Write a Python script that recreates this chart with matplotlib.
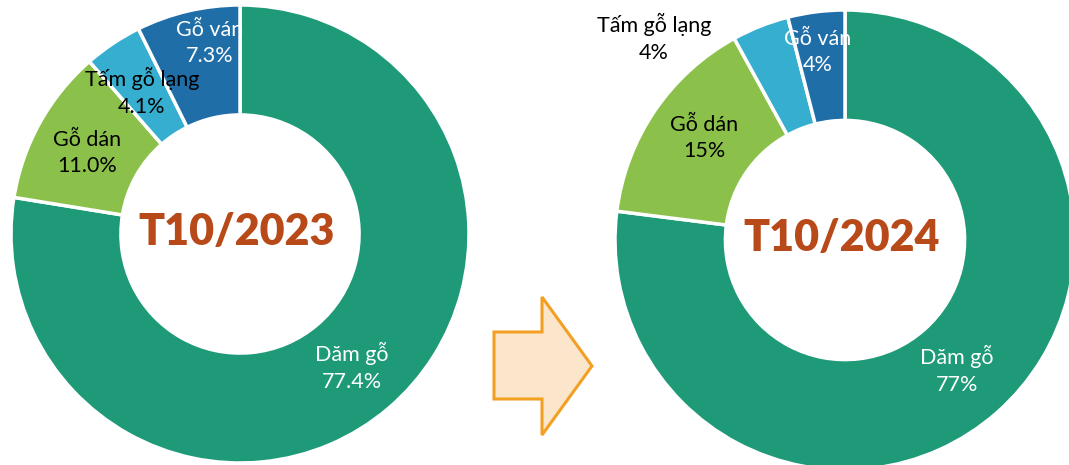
import matplotlib
matplotlib.use("Agg")
import matplotlib.pyplot as plt
from matplotlib.patches import Polygon

# ---- data ----
categories = ["Dăm gỗ", "Gỗ dán", "Tấm gỗ lạng", "Gỗ ván"]
values_2023 = [77.4, 11.0, 4.1, 7.3]
values_2024 = [77, 15, 4, 4]
labels_2023 = ["77.4%", "11.0%", "4.1%", "7.3%"]
labels_2024 = ["77%", "15%", "4%", "4%"]
titles = ["T10/2023", "T10/2024"]

# ---- styles / layout ----
colors = ["#1E9A78", "#8BC14A", "#36AECF", "#1F6EA8"]
text_colors = ["white", "black", "black", "white"]
W, H = 1069, 465
FONT = "Lato"

fig = plt.figure(figsize=(W / 100, H / 100), dpi=100)
ax = fig.add_axes([0, 0, 1, 1])

donuts = [
    dict(vals=values_2023, labs=labels_2023, title=titles[0], center=(240, H - 234), r=229,
         lpos=[(352, 367), (87, 153), (142, 92), (210, 43)]),
    dict(vals=values_2024, labs=labels_2024, title=titles[1], center=(845, H - 240), r=230,
         lpos=[(957, 370), (704, 138), (654, 38), (818, 52)]),
]

for d in donuts:
    ax.pie(d["vals"], colors=colors, startangle=90, counterclock=False,
           center=d["center"], radius=d["r"], frame=True,
           wedgeprops=dict(width=d["r"] * 0.48, edgecolor="white", linewidth=2.5))
    for cat, lab, (x, y), tc in zip(categories, d["labs"], d["lpos"], text_colors):
        ax.text(x, H - y, f"{cat}\n{lab}", ha="center", va="center", fontsize=15.5,
                color=tc, family=FONT, linespacing=1.4)
    ax.text(d["center"][0] - 3, d["center"][1] + 2, d["title"], ha="center", va="center",
            fontsize=31, fontweight="heavy", color="#B84A19", family=FONT)

ax.set_xlim(0, W)
ax.set_ylim(0, H)
ax.set_aspect("equal")
ax.axis("off")

# arrow shape
arrow_pts = [(494, 332), (542, 332), (542, 297), (592, 366), (542, 435), (542, 399), (494, 399)]
ax.add_patch(Polygon([(x, H - y) for x, y in arrow_pts], closed=True,
                     facecolor="#FBE6CC", edgecolor="#F2A024", linewidth=2.2))

fig.savefig("out.png", dpi=100)
